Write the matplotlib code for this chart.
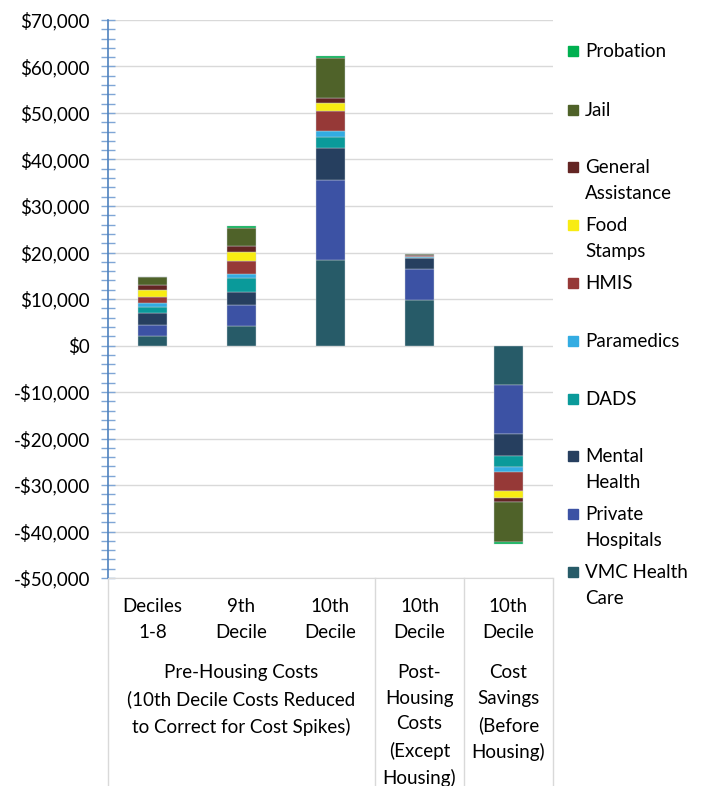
import matplotlib.pyplot as plt
from matplotlib.patches import Rectangle
from matplotlib.ticker import MultipleLocator, FuncFormatter

plt.rcParams['font.family'] = ['Lato', 'DejaVu Sans']

# cost components, stacked bottom to top
components = ["VMC Health\nCare", "Private\nHospitals", "Mental\nHealth", "DADS",
              "Paramedics", "HMIS", "Food\nStamps", "General\nAssistance",
              "Jail", "Probation"]
colors = ["#275B68", "#3C52A4", "#263F5F", "#0A9A9A", "#33ACE2",
          "#963937", "#F8EC12", "#632523", "#4F6229", "#00B050"]

bar_labels = ["Deciles\n1-8", "9th\nDecile", "10th\nDecile", "10th\nDecile", "10th\nDecile"]
group_labels = ["Pre-Housing Costs\n(10th Decile Costs Reduced\nto Correct for Cost Spikes)",
                "Post-\nHousing\nCosts\n(Except\nHousing)",
                "Cost\nSavings\n(Before\nHousing)"]
group_spans = [(0, 3), (3, 4), (4, 5)]

# dollars per person, one list per bar (same order as components)
deciles_1_8 = [2150, 2300, 2580, 1350, 800, 1220, 1630, 900, 1720, 80]
decile_9 = [4300, 4440, 2860, 2870, 920, 2860, 1930, 1250, 3860, 430]
decile_10_pre = [18400, 17180, 7000, 2360, 1220, 4290, 1720, 1000, 8720, 430]
decile_10_post = [9810, 6660, 2300, 120, 100, 150, 200, 100, 150, 110]
decile_10_savings = [-8590, -10520, -4700, -2240, -1120, -4140, -1520, -900, -8570, -320]
bars = [deciles_1_8, decile_9, decile_10_pre, decile_10_post, decile_10_savings]

W, H = 704, 786
fig = plt.figure(figsize=(W / 100, H / 100), dpi=100)
ax = fig.add_axes([108 / W, 1 - 578 / H, (553 - 108) / W, (578 - 20) / H])

blue = "#4F81BD"
for i, vals in enumerate(bars):
    pos, neg = 0, 0
    for v, c in zip(vals, colors):
        base = pos if v >= 0 else neg
        ax.bar(i + 0.5, v, 0.315, bottom=base, color=c, edgecolor="#C9D3D8", linewidth=0.3, zorder=3)
        if v >= 0:
            pos += v
        else:
            neg += v

ax.set_xlim(0, 5)
ax.set_ylim(-50000, 70000)
ax.yaxis.set_major_locator(MultipleLocator(10000))
ax.yaxis.set_minor_locator(MultipleLocator(2000))
ax.yaxis.set_major_formatter(FuncFormatter(lambda v, p: f"${v:,.0f}" if v >= 0 else f"-${-v:,.0f}"))
ax.tick_params(axis="y", which="both", direction="inout", length=10, width=1,
               color="#7FA6D6", labelsize=13.5, pad=8)
ax.set_xticks([])
ax.grid(axis="y", color="#D9D9D9", linewidth=1, zorder=0)
for s in ["top", "right"]:
    ax.spines[s].set_visible(False)
ax.spines["left"].set_color(blue)
ax.spines["left"].set_linewidth(1.2)
ax.spines["bottom"].set_color("#D9D9D9")

# category axis: separators reaching below the plot
trans = ax.get_xaxis_transform()
bottom_frac = -(H - 578) / (578 - 20)
for x in [0, 3, 4, 5]:
    ax.plot([x, x], [0, bottom_frac], transform=trans, color="#D9D9D9", lw=1, clip_on=False)

for i, lab in enumerate(bar_labels):
    ax.text(i + 0.5, -20 / 558, lab, transform=trans, ha="center", va="top",
            fontsize=13.5, linespacing=1.62)
for (a, b), lab in zip(group_spans, group_labels):
    ax.text((a + b) / 2, -86 / 558, lab, transform=trans, ha="center", va="top",
            fontsize=13.5, linespacing=1.62)

# legend down the right side
ys = [51, 110, 167, 225, 283, 341, 399, 456, 514, 572]
for name, c, y in zip(components[::-1], colors[::-1], ys):
    fig.add_artist(Rectangle((568 / W, 1 - (y + 5) / H), 10 / W, 10 / H,
                             transform=fig.transFigure, color=c))
    fig.text(585 / W, 1 - (y - 8) / H, name, ha="left", va="top", fontsize=13.5, linespacing=1.62)

fig.savefig("out.png", dpi=100)
